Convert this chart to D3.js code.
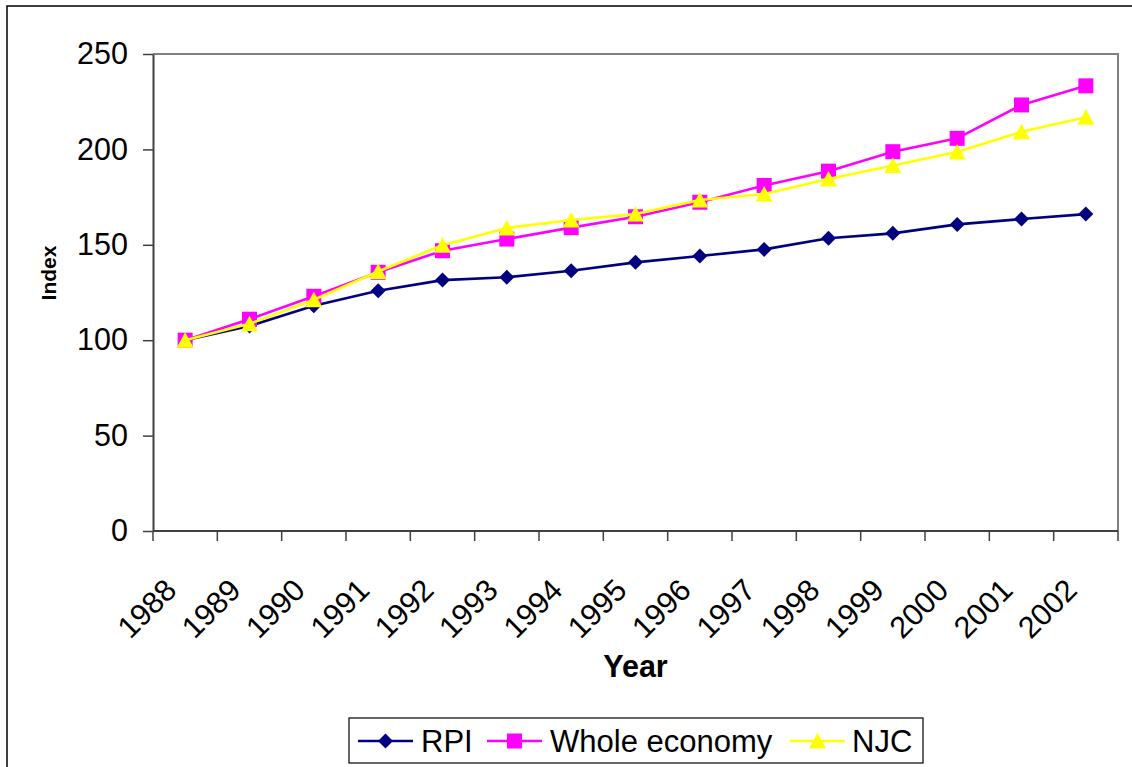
<!DOCTYPE html>
<html>
<head>
<meta charset="utf-8">
<script src="https://cdn.jsdelivr.net/npm/d3@7"></script>
<style>
  html, body { margin: 0; padding: 0; background: #fff; }
  svg { display: block; font-family: "Liberation Sans", Arial, sans-serif; }
</style>
</head>
<body>
<svg id="chart" width="1132" height="767"></svg>
<script>
// Pay indices, 1988 = 100
const years = ["1988","1989","1990","1991","1992","1993","1994","1995","1996","1997","1998","1999","2000","2001","2002"];
const rpi   = [100, 107.4, 118.1, 125.9, 131.5, 133.0, 136.4, 140.8, 144.1, 147.6, 153.4, 156.0, 160.7, 163.5, 166.1];
const whole = [100, 111.0, 123.0, 135.6, 146.9, 153.0, 159.0, 164.7, 172.3, 181.1, 188.6, 198.8, 205.8, 223.3, 233.3];
const njc   = [100, 108.6, 121.2, 136.0, 149.8, 158.8, 163.0, 166.1, 173.5, 176.6, 184.5, 191.6, 198.6, 209.3, 216.8];
const yTicks = [0, 50, 100, 150, 200, 250];
const seriesNames = ["RPI", "Whole economy", "NJC"];

const series = [
  { name: seriesNames[0], values: rpi,   color: "#000080", marker: "diamond" },
  { name: seriesNames[1], values: whole, color: "#FF00FF", marker: "square" },
  { name: seriesNames[2], values: njc,   color: "#FFFF00", marker: "triangle" }
];

const svg = d3.select("#chart");
const plot = { left: 153, right: 1118, top: 54, bottom: 531 };

// chart frame
svg.append("rect")
  .attr("x", 7).attr("y", 6).attr("width", 1140).attr("height", 780)
  .attr("fill", "#fff").attr("stroke", "#000").attr("stroke-width", 1.5);

const x = d3.scaleBand().domain(years).range([plot.left, plot.right]).padding(0);
const y = d3.scaleLinear().domain([0, 250]).range([plot.bottom, plot.top]);
const cx = d => x(d) + x.bandwidth() / 2;

// plot area border (top and right)
svg.append("path")
  .attr("d", `M${plot.left},${plot.top}H${plot.right}V${plot.bottom}`)
  .attr("fill", "none").attr("stroke", "#808080").attr("stroke-width", 2);

// y axis
const yAxis = svg.append("g")
  .attr("transform", `translate(${plot.left},0)`)
  .call(d3.axisLeft(y).tickValues(yTicks).tickSize(10).tickSizeOuter(0).tickPadding(15));
yAxis.select(".domain").attr("stroke", "#404040").attr("stroke-width", 2);
yAxis.selectAll(".tick line").attr("stroke", "#404040").attr("stroke-width", 1.5);
yAxis.selectAll(".tick text")
  .attr("font-size", "30.5px").attr("fill", "#000")
  .attr("font-family", "'Liberation Sans', Arial, sans-serif");

// x axis: ticks between categories, labels at category centres
const xAxis = svg.append("g");
xAxis.append("line")
  .attr("x1", plot.left).attr("x2", plot.right)
  .attr("y1", plot.bottom).attr("y2", plot.bottom)
  .attr("stroke", "#404040").attr("stroke-width", 2);
const tickPos = years.map(d => x(d)).concat([x.range()[1]]);
xAxis.selectAll("line.tick").data(tickPos).join("line")
  .attr("class", "tick")
  .attr("x1", d => d).attr("x2", d => d)
  .attr("y1", plot.bottom).attr("y2", plot.bottom + 10)
  .attr("stroke", "#404040").attr("stroke-width", 1.5);
xAxis.selectAll("text").data(years).join("text")
  .attr("transform", d => `translate(${cx(d) - 7},${plot.bottom + 61}) rotate(-45)`)
  .attr("text-anchor", "end")
  .attr("font-size", "30.5px")
  .attr("fill", "#000")
  .text(d => d);

// axis titles
svg.append("text")
  .attr("x", (plot.left + plot.right) / 2).attr("y", 677)
  .attr("text-anchor", "middle").attr("font-size", "30.5px").attr("font-weight", "bold")
  .text("Year");
svg.append("text")
  .attr("transform", "translate(56,273) rotate(-90)")
  .attr("text-anchor", "middle").attr("font-size", "21px").attr("font-weight", "bold")
  .text("Index");

// marker shapes
function markerPath(type) {
  if (type === "diamond") return "M0,-7.5L7.5,0L0,7.5L-7.5,0Z";
  if (type === "square") return "M-7.5,-7.5H7.5V7.5H-7.5Z";
  return "M0,-8L8.5,7.5H-8.5Z";
}

const line = d3.line().x((d, i) => cx(years[i])).y(d => y(d));

series.forEach(s => {
  const g = svg.append("g");
  g.append("path")
    .attr("d", line(s.values))
    .attr("fill", "none").attr("stroke", s.color).attr("stroke-width", 2.6)
    .attr("stroke-linejoin", "round");
  g.selectAll("path.mk").data(s.values).join("path")
    .attr("class", "mk")
    .attr("transform", (d, i) => `translate(${cx(years[i])},${y(d)})`)
    .attr("d", markerPath(s.marker))
    .attr("fill", s.color);
});

// legend
const legend = svg.append("g");
legend.append("rect")
  .attr("x", 349).attr("y", 718).attr("width", 574).attr("height", 45)
  .attr("fill", "#fff").attr("stroke", "#000").attr("stroke-width", 1.2);
const legendItems = [
  { s: series[0], x0: 358, x1: 413, tx: 421 },
  { s: series[1], x0: 487, x1: 542, tx: 550 },
  { s: series[2], x0: 790, x1: 845, tx: 852 }
];
legendItems.forEach(it => {
  const ly = 741;
  legend.append("line")
    .attr("x1", it.x0).attr("x2", it.x1).attr("y1", ly).attr("y2", ly)
    .attr("stroke", it.s.color).attr("stroke-width", 2.6);
  legend.append("path")
    .attr("transform", `translate(${(it.x0 + it.x1) / 2},${ly})`)
    .attr("d", markerPath(it.s.marker))
    .attr("fill", it.s.color);
  legend.append("text")
    .attr("x", it.tx).attr("y", ly + 11)
    .attr("font-size", "31px").attr("fill", "#000")
    .text(it.s.name);
});
</script>
</body>
</html>
